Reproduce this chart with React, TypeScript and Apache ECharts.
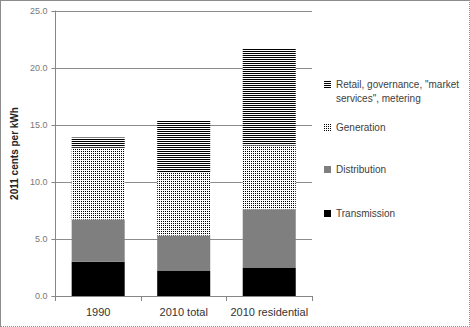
import React, { useEffect, useRef } from "react";
import * as echarts from "echarts";

const categories = ["1990", "2010 total", "2010 residential"];
const transmission = [3.0, 2.2, 2.5];
const distribution = [3.7, 3.1, 5.1];
const generation = [6.3, 5.5, 5.6];
const retail = [0.9, 4.6, 8.5];
const yTicks = { min: 0, max: 25, interval: 5 };

const FONT = "'Liberation Sans', 'DejaVu Sans', sans-serif";
const RETAIL = 'Retail, governance, "market services", metering';

function makePattern(kind: "dots" | "stripes"): string {
  const c = document.createElement("canvas");
  c.width = 2;
  c.height = 2;
  const ctx = c.getContext("2d")!;
  ctx.fillStyle = "#fff";
  ctx.fillRect(0, 0, 2, 2);
  ctx.fillStyle = "#000";
  if (kind === "dots") ctx.fillRect(0, 0, 1, 1);
  else ctx.fillRect(0, 0, 2, 1);
  return c.toDataURL();
}

function stripeIcon(): string {
  let d = "";
  for (let y = 0; y < 7; y += 2) d += `M0,${y}H7V${y + 1}H0Z`;
  return "path://" + d;
}
function dotIcon(): string {
  let d = "";
  for (let y = 0; y < 7; y += 2)
    for (let x = 0; x < 7; x += 2) d += `M${x},${y}H${x + 1}V${y + 1}H${x}Z`;
  return "path://" + d;
}

export default function App() {
  const ref = useRef<HTMLDivElement>(null);
  useEffect(() => {
    document.body.style.margin = "0";
    const chart = echarts.init(ref.current!, null, { renderer: "svg" });
    const dots = { image: makePattern("dots"), repeat: "repeat", imageWidth: 2, imageHeight: 2 };
    const stripes = { image: makePattern("stripes"), repeat: "repeat", imageWidth: 2, imageHeight: 2 };
    const legendBase = {
      orient: "vertical" as const,
      left: 323,
      padding: 0,
      itemWidth: 7,
      itemHeight: 7,
      icon: "rect",
      textStyle: { fontFamily: FONT, fontSize: 10, lineHeight: 11, color: "#404040" },
      selectedMode: false,
    };
    chart.setOption({
      animation: false,
      backgroundColor: "#fff",
      grid: { left: 52, right: 157, top: 10, bottom: 30 },
      legend: [
        {
          ...legendBase,
          data: [{ name: RETAIL, icon: stripeIcon(), itemStyle: { color: "#000" } }],
          top: 78,
          formatter: () => 'Retail, governance, "market',
        },
        {
          ...legendBase,
          data: [{ name: "Generation", icon: dotIcon(), itemStyle: { color: "#000" } }],
          top: 121,
        },
        { ...legendBase, data: ["Distribution"], top: 163 },
        { ...legendBase, data: ["Transmission"], top: 207 },
      ],
      graphic: [
        {
          type: "text",
          left: 335,
          top: 92,
          style: {
            text: 'services", metering',
            font: `10px ${FONT}`,
            fill: "#404040",
          },
        },
      ],
      xAxis: {
        type: "category",
        data: categories,
        axisLine: { lineStyle: { color: "#868686" } },
        axisTick: { show: true, length: 5, lineStyle: { color: "#868686" } },
        axisLabel: { fontFamily: FONT, fontSize: 11, color: "#333", margin: 10, interval: 0 },
      },
      yAxis: {
        type: "value",
        min: yTicks.min,
        max: yTicks.max,
        interval: yTicks.interval,
        name: "2011 cents per kWh",
        nameLocation: "middle",
        nameGap: 28,
        nameTextStyle: { fontFamily: FONT, fontSize: 10, color: "#222", fontWeight: "bold" },
        axisLine: { show: true, lineStyle: { color: "#868686" } },
        axisTick: { show: true, length: 4, lineStyle: { color: "#868686" } },
        axisLabel: {
          fontFamily: FONT,
          fontSize: 9,
          color: "#777",
          margin: 8,
          formatter: (v: number) => v.toFixed(1),
        },
        splitLine: { lineStyle: { color: "#8c8c8c" } },
      },
      series: [
        {
          name: "Transmission",
          type: "bar",
          stack: "t",
          data: transmission,
          barWidth: "62%",
          itemStyle: { color: "#000" },
        },
        {
          name: "Distribution",
          type: "bar",
          stack: "t",
          data: distribution,
          itemStyle: { color: "#7f7f7f" },
        },
        {
          name: "Generation",
          type: "bar",
          stack: "t",
          data: generation,
          itemStyle: { color: dots },
        },
        {
          name: RETAIL,
          type: "bar",
          stack: "t",
          data: retail,
          itemStyle: { color: stripes },
        },
      ],
    });
    return () => chart.dispose();
  }, []);
  return (
    <div
      style={{
        width: 470,
        height: 327,
        boxSizing: "border-box",
        borderTop: "1px solid #8c8c8c",
        borderLeft: "1px solid #8c8c8c",
        borderRight: "1px dotted #8c8c8c",
        borderBottom: "1px dotted #8c8c8c",
        overflow: "hidden",
      }}
    >
      <div ref={ref} style={{ width: 468, height: 325 }} />
    </div>
  );
}
